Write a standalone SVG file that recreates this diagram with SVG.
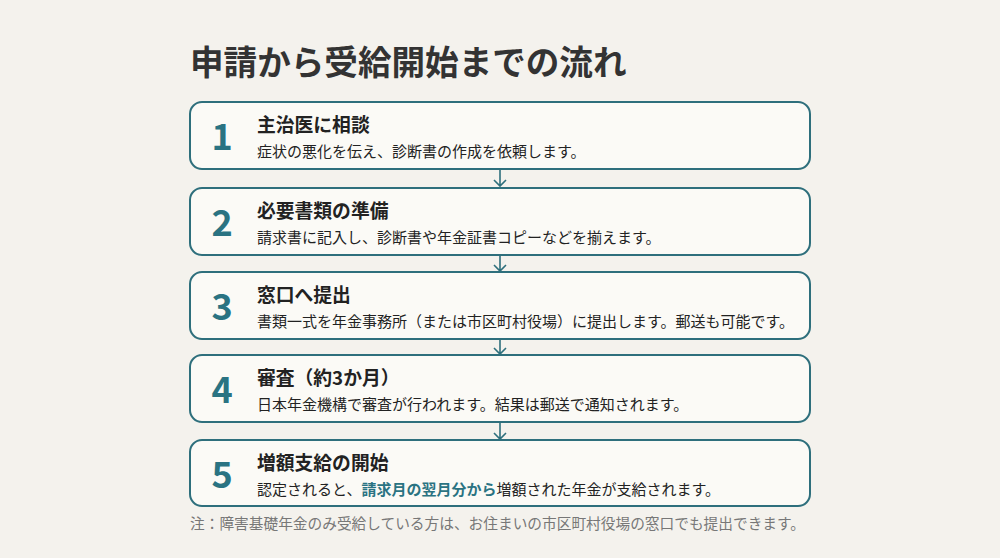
<svg xmlns="http://www.w3.org/2000/svg" width="1000" height="558" viewBox="0 0 1000 558">
<style>
.bg{fill:#f4f2ed}
.box{fill:#fbfaf6;stroke:#2e6f7c;stroke-width:2}
.num{font-family:"Noto Sans CJK JP","Noto Sans",sans-serif;font-weight:700;font-size:36px;fill:#2a7382;text-anchor:middle}
.ttl{font-family:"Noto Sans CJK JP",sans-serif;font-weight:700;font-size:18.8px;fill:#222}
.sub{font-family:"Noto Sans CJK JP",sans-serif;font-size:15px;fill:#222}
.hl{fill:#2a7382;font-weight:700}
.head{font-family:"Noto Sans CJK JP",sans-serif;font-weight:700;font-size:33.6px;fill:#333}
.note{font-family:"Noto Sans CJK JP",sans-serif;font-size:14.7px;fill:#777}
.conn{stroke:#2e6f7c;stroke-width:1.6;fill:none}
</style>
<rect class="bg" width="1000" height="558"/>
<text class="head" x="190" y="75">申請から受給開始までの流れ</text>
<g id="connectors">
<path class="conn" d="M500 169V186M494 180L500 186L506 180"/>
<path class="conn" d="M500 256V271M494 265L500 271L506 265"/>
<path class="conn" d="M500 340V354M494 348L500 354L506 348"/>
<path class="conn" d="M500 423V439M494 433L500 439L506 433"/>
</g>
<g id="step1">
<rect class="box" x="190" y="102" width="620" height="67" rx="12"/>
<text class="num" x="222" y="150">1</text>
<text class="ttl" x="257" y="132">主治医に相談</text>
<text class="sub" x="257" y="157">症状の悪化を伝え、診断書の作成を依頼します。</text>
</g>
<g id="step2">
<rect class="box" x="190" y="188" width="620" height="67" rx="12"/>
<text class="num" x="222" y="236">2</text>
<text class="ttl" x="257" y="218">必要書類の準備</text>
<text class="sub" x="257" y="243">請求書に記入し、診断書や年金証書コピーなどを揃えます。</text>
</g>
<g id="step3">
<rect class="box" x="190" y="272" width="620" height="67" rx="12"/>
<text class="num" x="222" y="320">3</text>
<text class="ttl" x="257" y="302">窓口へ提出</text>
<text class="sub" x="257" y="327">書類一式を年金事務所（または市区町村役場）に提出します。郵送も可能です。</text>
</g>
<g id="step4">
<rect class="box" x="190" y="355" width="620" height="67" rx="12"/>
<text class="num" x="222" y="403">4</text>
<text class="ttl" x="257" y="385">審査（約3か月）</text>
<text class="sub" x="257" y="410">日本年金機構で審査が行われます。結果は郵送で通知されます。</text>
</g>
<g id="step5">
<rect class="box" x="190" y="440" width="620" height="66" rx="12"/>
<text class="num" x="222" y="488">5</text>
<text class="ttl" x="257" y="470">増額支給の開始</text>
<text class="sub" x="257" y="495">認定されると、<tspan class="hl">請求月の翌月分から</tspan>増額された年金が支給されます。</text>
</g>
<text class="note" x="190" y="529">注：障害基礎年金のみ受給している方は、お住まいの市区町村役場の窓口でも提出できます。</text>
</svg>
